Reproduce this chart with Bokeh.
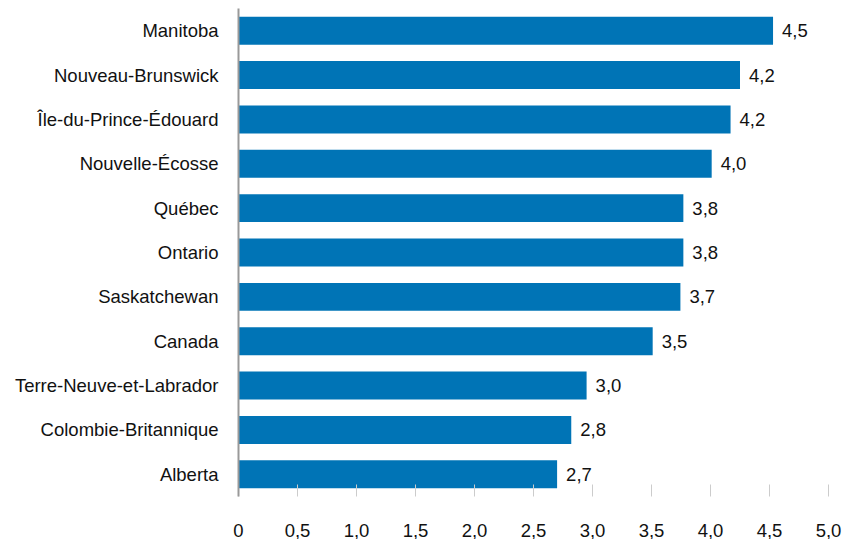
from bokeh.plotting import figure
from bokeh.models import ColumnDataSource, Range1d, FactorRange
from bokeh.embed import file_html
from bokeh.resources import INLINE
from bokeh.core.properties import value

provinces = ["Manitoba", "Nouveau-Brunswick", "Île-du-Prince-Édouard", "Nouvelle-Écosse",
             "Québec", "Ontario", "Saskatchewan", "Canada", "Terre-Neuve-et-Labrador",
             "Colombie-Britannique", "Alberta"]
values = [4.53, 4.25, 4.17, 4.01, 3.77, 3.77, 3.745, 3.51, 2.95, 2.82, 2.70]
value_labels = ["4,5", "4,2", "4,2", "4,0", "3,8", "3,8", "3,7", "3,5", "3,0", "2,8", "2,7"]
x_ticks = [0, 0.5, 1.0, 1.5, 2.0, 2.5, 3.0, 3.5, 4.0, 4.5, 5.0]
x_tick_labels = ["0", "0,5", "1,0", "1,5", "2,0", "2,5", "3,0", "3,5", "4,0", "4,5", "5,0"]

FONT = "Liberation Sans"
FSIZE = "18.5px"
TEXT_COLOR = "#111111"
BAR_COLOR = "#0074b6"

src = ColumnDataSource(dict(cat=provinces, val=values, lab=value_labels))

p = figure(width=846, height=539, output_backend="svg", toolbar_location=None,
           y_range=FactorRange(factors=list(reversed(provinces))),
           x_range=Range1d(0, 5.0),
           min_border_left=238, min_border_right=18, min_border_top=8, min_border_bottom=0)

p.hbar(y="cat", right="val", left=0, height=0.63, source=src, color=BAR_COLOR, line_color=None)
p.text(x="val", y="cat", text="lab", source=src, x_offset=9, text_baseline="middle",
       text_align="left", text_font=value(FONT), text_font_size=FSIZE, text_color=TEXT_COLOR)

p.outline_line_color = None
p.xgrid.grid_line_color = None
p.ygrid.grid_line_color = None

xa = p.xaxis[0]
xa.ticker = x_ticks
xa.major_label_overrides = {t: l for t, l in zip(x_ticks, x_tick_labels)}
xa.axis_line_color = None
xa.major_tick_in = 12
xa.major_tick_out = 0
xa.major_tick_line_color = "#cccccc"
xa.minor_tick_line_color = None
xa.major_label_standoff = 27
xa.major_label_text_font = FONT
xa.major_label_text_font_size = FSIZE
xa.major_label_text_color = TEXT_COLOR

ya = p.yaxis[0]
ya.axis_line_color = "#999999"
ya.axis_line_width = 2
ya.major_tick_line_color = None
ya.minor_tick_line_color = None
ya.major_tick_out = 0
ya.major_tick_in = 0
ya.major_label_standoff = 20
ya.major_label_text_font = FONT
ya.major_label_text_font_size = FSIZE
ya.major_label_text_color = TEXT_COLOR

open("out.html", "w").write(file_html(p, INLINE))
